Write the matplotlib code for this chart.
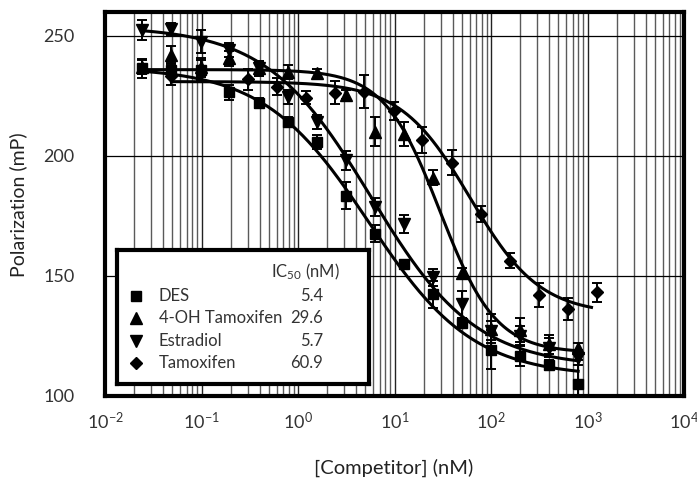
import matplotlib
matplotlib.use('Agg')
import matplotlib.pyplot as plt
import numpy as np
from matplotlib.ticker import LogLocator, NullFormatter

plt.rcParams['font.family'] = ['Lato', 'DejaVu Sans']
plt.rcParams['mathtext.fontset'] = 'custom'
plt.rcParams['mathtext.rm'] = 'Lato'
plt.rcParams['mathtext.it'] = 'Lato'

# ---- data (nM, mP) ----
conc = [0.0244, 0.0488, 0.0977, 0.195, 0.39, 0.78, 1.56, 3.125,
        6.25, 12.5, 25, 50, 100, 200, 400, 800]
conc_tam = [0.0488, 0.305, 0.61, 1.22, 2.44, 4.88, 9.77, 19.5,
            39, 78, 156, 312, 625, 1250]

des_y = [236.5, 235.8, 235.8, 226.5, 222.2, 214.2, 205.9, 183.5,
         167.6, 155.1, 142.3, 130.3, 119.3, 116.7, 112.9, 105.0]
des_err = [3.8, 3, 4, 3, 2, 2, 3, 5.5, 3.5, 1.5, 5.5, 2, 8, 4, 2, 10]

oht_y = [237, 242.1, 237, 240.7, 236.5, 235.1, 234.4, 225.6,
         210.1, 209.0, 191.0, 151.2, 128.0, 127.3, 121.6, 120.2]
oht_err = [3, 3.8, 4, 3, 3, 3, 1.8, 2, 6, 5, 3, 2, 6, 5, 4, 2]

est_y = [252.5, 252.9, 247.7, 244.2, 236.5, 224.7, 214.2, 198.2,
         178.7, 171.8, 149.5, 138.3, 127.2, 125.1, 120.2, 116.0]
est_err = [4, 2.5, 4.6, 3, 3, 3, 3, 4, 3.8, 3.7, 3.5, 5.6, 4, 4, 4, 3]

tam_y = [233.2, 231.9, 228.9, 224.3, 226.4, 226.8, 218.7, 206.6,
         197.1, 175.9, 156.3, 142.2, 136.3, 143.2]
tam_err = [3.5, 4.5, 3.5, 2.8, 4.9, 7, 3.6, 5.3, 5.2, 3.2, 3.1, 5, 4.7, 3.9]

names = ['DES', '4-OH Tamoxifen', 'Estradiol', 'Tamoxifen']
ic50_labels = ['5.4', '29.6', '5.7', '60.9']
markers = ['s', '^', 'v', 'D']
msizes = [7, 8, 8, 6.5]

# 4-parameter logistic fit parameters: top, bottom, IC50, hill, x-range
fit_top = [237, 236, 254, 231]
fit_bottom = [108, 118, 112, 134]
fit_ic50 = [5.4, 29.6, 5.7, 60.9]
fit_hill = [0.8, 1.5, 0.8, 1.2]
fit_xmin = [0.0244, 0.0244, 0.0244, 0.0488]
fit_xmax = [800, 800, 800, 1100]

series_x = [conc, conc, conc, conc_tam]
series_y = [des_y, oht_y, est_y, tam_y]
series_err = [des_err, oht_err, est_err, tam_err]

W, H = 697, 478
fig = plt.figure(figsize=(W / 100, H / 100), dpi=100)
ax = fig.add_axes([105 / W, (H - 396) / H, 579 / W, 384 / H])
ax.set_xscale('log')
ax.set_xlim(1e-2, 1e4)
ax.set_ylim(100, 260)
ax.set_yticks([100, 150, 200, 250])
ax.xaxis.set_major_locator(LogLocator(base=10, numticks=10))
ax.xaxis.set_minor_locator(LogLocator(base=10, subs=np.arange(2, 10), numticks=40))
ax.xaxis.set_minor_formatter(NullFormatter())

ax.grid(which='minor', axis='x', color='#5a5a5a', lw=1.0, zorder=0)
ax.grid(which='major', axis='x', color='#222222', lw=1.0, zorder=0)
ax.grid(which='major', axis='y', color='black', lw=0.9, zorder=0)
ax.set_axisbelow(True)

for s in ax.spines.values():
    s.set_linewidth(3)
ax.tick_params(which='both', length=0, labelsize=13, labelcolor='#333333')
ax.tick_params(axis='x', pad=11)
ax.tick_params(axis='y', pad=22)

for i in range(4):
    xf = np.logspace(np.log10(fit_xmin[i]), np.log10(fit_xmax[i]), 300)
    yf = fit_bottom[i] + (fit_top[i] - fit_bottom[i]) / (1 + (xf / fit_ic50[i]) ** fit_hill[i])
    ax.plot(xf, yf, color='black', lw=2.2, zorder=2)

for i in range(4):
    ax.errorbar(series_x[i], series_y[i], yerr=series_err[i], fmt=markers[i],
                color='black', ms=msizes[i], capsize=3.5, elinewidth=1.4,
                capthick=1.4, zorder=3)

fig.text(18 / W, 1 - 205 / H, 'Polarization (mP)', rotation=90, ha='center',
         va='center', fontsize=14, color='#222222')
fig.text(394 / W, 1 - 468 / H, '[Competitor] (nM)', ha='center', va='center',
         fontsize=14.5, color='#222222')

# legend box
lx0, ly0, lx1, ly1 = 117.3, 250, 369.3, 384
lax = fig.add_axes([lx0 / W, (H - ly1) / H, (lx1 - lx0) / W, (ly1 - ly0) / H])
lax.set_xlim(0, 1)
lax.set_ylim(0, 1)
lax.set_xticks([])
lax.set_yticks([])
lax.set_facecolor('white')
for s in lax.spines.values():
    s.set_linewidth(3)

def fx(px):
    return (px - lx0) / (lx1 - lx0)

def fy(py):
    return (ly1 - py) / (ly1 - ly0)

lax.text(fx(340), fy(271.7), r'IC$_{50}$ (nM)', ha='right', va='center',
         fontsize=12, color='#333333')
row_y = [295.7, 318.3, 340.7, 363.3]
for i in range(4):
    lax.plot([fx(136)], [fy(row_y[i])], marker=markers[i], color='black',
             ms=msizes[i], linestyle='none')
    lax.text(fx(159), fy(row_y[i]), names[i], ha='left', va='center',
             fontsize=12, color='#333333')
    lax.text(fx(323.3), fy(row_y[i]), ic50_labels[i], ha='right', va='center',
             fontsize=12, color='#333333')

fig.savefig('out.png', dpi=100)
